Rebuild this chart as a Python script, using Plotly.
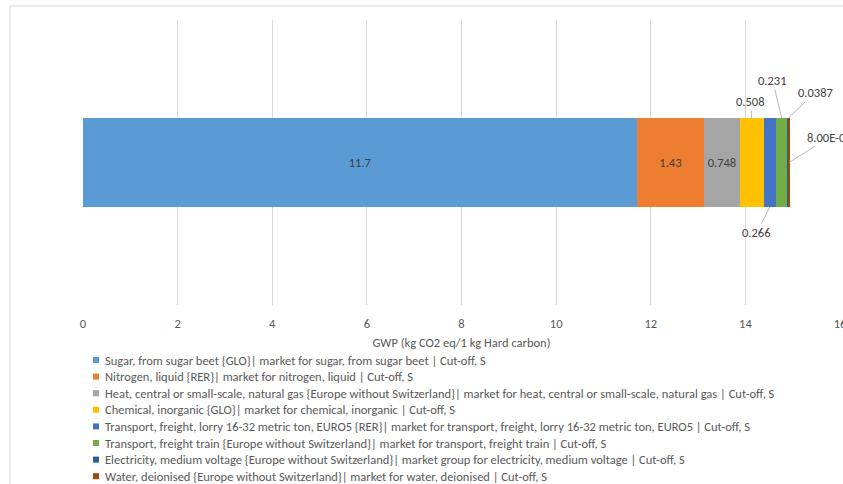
import plotly.graph_objects as go

# Contribution of each process to the GWP of 1 kg hard carbon
processes = [
    "Sugar, from sugar beet {GLO}| market for sugar, from sugar beet | Cut-off, S",
    "Nitrogen, liquid {RER}| market for nitrogen, liquid | Cut-off, S",
    "Heat, central or small-scale, natural gas {Europe without Switzerland}| market for heat, central or small-scale, natural gas | Cut-off, S",
    "Chemical, inorganic {GLO}| market for chemical, inorganic | Cut-off, S",
    "Transport, freight, lorry 16-32 metric ton, EURO5 {RER}| market for transport, freight, lorry 16-32 metric ton, EURO5 | Cut-off, S",
    "Transport, freight train {Europe without Switzerland}| market for transport, freight train | Cut-off, S",
    "Electricity, medium voltage {Europe without Switzerland}| market group for electricity, medium voltage | Cut-off, S",
    "Water, deionised {Europe without Switzerland}| market for water, deionised | Cut-off, S",
]
gwp = [11.7, 1.43, 0.748, 0.508, 0.266, 0.231, 0.0387, 0.0008]
colors = ["#5B9BD5", "#ED7D31", "#A5A5A5", "#FFC000", "#4472C4", "#70AD47", "#255E91", "#9E480E"]

x_ticks = list(range(0, 17, 2))
x_title = "GWP (kg CO2 eq/1 kg Hard carbon)"

W, H = 843, 484
ML, MR, MT, MB = 83, 3, 20, 179
PW, PH = W - ML - MR, H - MT - MB
BAR_W = 0.31
FONT = "Carlito, Lato, sans-serif"
FS = 12.5
TXT = "#404040"
GREY = "#595959"


def fmt(v):
    return f"{v:.2E}" if v < 0.001 else f"{v:.3g}"


def px_x(p):
    return (p - ML) / PW


def px_y(p):
    return (H - MB - p) / PH


fig = go.Figure()
inside = 3  # the three largest segments carry their label inside the bar
for i, (name, v, c) in enumerate(zip(processes, gwp, colors)):
    fig.add_trace(go.Bar(
        x=[v], y=[0], orientation="h", name=name, width=BAR_W,
        marker=dict(color=c, line=dict(width=0)),
        text=[fmt(v)] if i < inside else None,
        textposition="inside", insidetextanchor="middle",
        textfont=dict(family=FONT, size=FS, color=TXT),
        showlegend=False, hoverinfo="x+name",
    ))

# leader-line labels for the thin segments (tip position + text offset in px)
offsets = {3: (-1, -17, "top"), 4: (-13, 26, "bottom"), 5: (-9, -38, "top"),
           6: (27, -26, "top"), 7: (40, -25, "mid")}
annotations = []
start = 0.0
for i, v in enumerate(gwp):
    if i in offsets:
        ax, ay, edge = offsets[i]
        y = {"top": BAR_W / 2, "bottom": -BAR_W / 2, "mid": 0}[edge]
        annotations.append(dict(
            x=start + v / 2, y=y, xref="x", yref="y", text=fmt(v),
            showarrow=True, arrowhead=0, arrowwidth=0.8, arrowcolor="#A6A6A6",
            ax=ax, ay=ay, standoff=0,
            font=dict(family=FONT, size=FS, color=TXT),
        ))
    start += v

# legend drawn as a compact list below the axis
shapes = []
row0, row_gap = 360, 16.6
for i, (name, c) in enumerate(zip(processes, colors)):
    yc = row0 + i * row_gap
    shapes.append(dict(type="rect", xref="paper", yref="paper",
                       x0=px_x(93), x1=px_x(99), y0=px_y(yc + 3), y1=px_y(yc - 3),
                       fillcolor=c, line=dict(width=0)))
    annotations.append(dict(x=px_x(103), y=px_y(yc), xref="paper", yref="paper",
                            text=name, showarrow=False, xanchor="left", yanchor="middle",
                            font=dict(family=FONT, size=FS, color=GREY)))

# chart area frame
shapes.append(dict(type="rect", xref="paper", yref="paper",
                   x0=px_x(10), x1=px_x(W + 20), y0=px_y(H + 20), y1=px_y(6),
                   line=dict(color="#D9D9D9", width=1), fillcolor="rgba(0,0,0,0)",
                   layer="below"))

fig.update_layout(
    width=W, height=H,
    margin=dict(l=ML, r=MR, t=MT, b=MB),
    paper_bgcolor="white", plot_bgcolor="white",
    barmode="stack", showlegend=False,
    font=dict(family=FONT, size=FS, color=GREY),
    xaxis=dict(range=[0, 16], tickvals=x_ticks, showgrid=True, gridcolor="#D9D9D9",
               gridwidth=1, zeroline=False, showline=False, ticks="",
               ticklabelstandoff=9, ticklabeloverflow="allow",
               tickfont=dict(family=FONT, size=FS, color=GREY),
               title=dict(text=x_title, font=dict(family=FONT, size=FS, color=GREY),
                          standoff=8),
               automargin=False),
    yaxis=dict(range=[-0.5, 0.5], visible=False, fixedrange=True),
    annotations=annotations, shapes=shapes,
)

fig.write_html("out.html")
